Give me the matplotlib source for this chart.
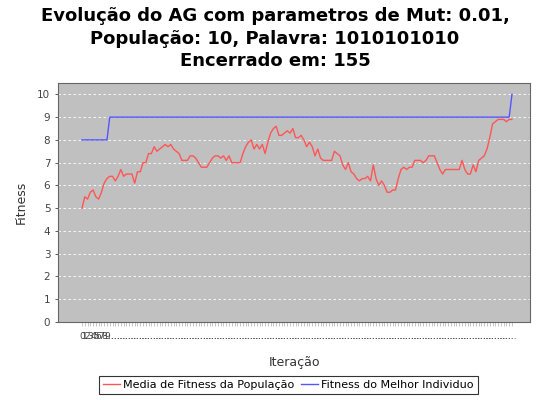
import numpy as np
import matplotlib
matplotlib.use("Agg")
import matplotlib.pyplot as plt

# media de fitness da populacao, por iteracao (0..155)
media = [5.0, 5.5, 5.4, 5.7, 5.8, 5.5, 5.4, 5.7, 6.1, 6.3,
         6.4, 6.4, 6.2, 6.4, 6.7, 6.4, 6.5, 6.5, 6.5, 6.1,
         6.6, 6.6, 7.0, 7.0, 7.4, 7.4, 7.7, 7.5, 7.6, 7.7,
         7.8, 7.7, 7.8, 7.6, 7.5, 7.4, 7.1, 7.1, 7.1, 7.3,
         7.3, 7.2, 7.0, 6.8, 6.8, 6.8, 7.0, 7.2, 7.3, 7.3,
         7.2, 7.3, 7.1, 7.3, 7.0, 7.0, 7.0, 7.0, 7.4, 7.7,
         7.9, 8.0, 7.6, 7.8, 7.6, 7.8, 7.4, 7.9, 8.3, 8.5,
         8.6, 8.2, 8.2, 8.3, 8.4, 8.3, 8.5, 8.1, 8.1, 8.2,
         8.0, 7.7, 7.9, 7.7, 7.3, 7.6, 7.2, 7.1, 7.1, 7.1,
         7.1, 7.5, 7.4, 7.3, 6.9, 6.7, 7.0, 6.6, 6.5, 6.3,
         6.2, 6.3, 6.3, 6.4, 6.2, 6.9, 6.3, 6.0, 6.2, 6.0,
         5.7, 5.7, 5.8, 5.8, 6.3, 6.7, 6.8, 6.7, 6.8, 6.8,
         7.1, 7.1, 7.1, 7.0, 7.1, 7.3, 7.3, 7.3, 7.0, 6.7,
         6.5, 6.7, 6.7, 6.7, 6.7, 6.7, 6.7, 7.1, 6.7, 6.5,
         6.5, 6.9, 6.6, 7.1, 7.2, 7.3, 7.6, 8.1, 8.7, 8.8,
         8.9, 8.9, 8.9, 8.8, 8.9, 8.9]

# fitness do melhor individuo
melhor = [8] * 10 + [9] * 145 + [10]

iteracoes = np.arange(len(media))
rotulos = [str(i) if i < 10 else "..." for i in iteracoes]

fig = plt.figure(figsize=(5.5, 4), dpi=100)
ax = fig.add_axes([58/550, 1 - 322/400, 472/550, 239/400])
ax.set_facecolor("#C0C0C0")

ax.plot(iteracoes, media, color="#FF5555", lw=1, label="Media de Fitness da População")
ax.plot(iteracoes, melhor, color="#5555FF", lw=1, label="Fitness do Melhor Individuo")

ax.set_ylim(0, 10.5)
ax.set_yticks(range(0, 11))
ax.set_xlim(-8.65, 161.5)
ax.set_xticks(iteracoes)
ax.set_xticklabels(rotulos, fontsize=6.5, color="#444444")
ax.tick_params(axis="y", labelsize=7.5, colors="#444444", length=2, width=0.6)
ax.tick_params(axis="x", length=3, width=0.4, color="#999999", pad=4)
ax.yaxis.grid(True, color="white", ls=(0, (3, 3)), lw=0.6)
for s in ax.spines.values():
    s.set_color("#666666")
    s.set_linewidth(0.8)

ax.set_xlabel("Iteração", fontsize=9, color="#333333", labelpad=11)
ax.set_ylabel("Fitness", fontsize=9, color="#333333", labelpad=7)

fig.suptitle("Evolução do AG com parametros de Mut: 0.01,\nPopulação: 10, Palavra: 1010101010\nEncerrado em: 155",
             fontsize=13, fontweight="bold", y=0.982, linespacing=1.33)

leg = fig.legend(loc="lower center", bbox_to_anchor=(0.524, 0.0), ncol=2, fontsize=8,
                 frameon=True, fancybox=False, edgecolor="black", handlelength=1.5,
                 handletextpad=0.3, columnspacing=0.6, borderpad=0.4)
leg.get_frame().set_linewidth(0.8)

fig.savefig("out.png", dpi=100, facecolor="white")
